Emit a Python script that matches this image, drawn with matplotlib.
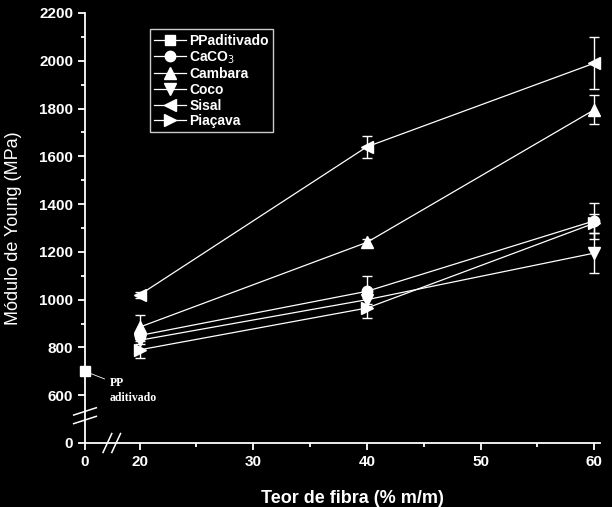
import matplotlib
matplotlib.use("Agg")
import matplotlib.pyplot as plt
from matplotlib.ticker import FixedLocator

# fibre content (% m/m) and Young's modulus (MPa)
TEOR = [20, 40, 60]

PP_TEOR = 0
PP_MODULO = 700

CACO3 = [850, 1035, 1330]
CACO3_ERR = [15, 65, 75]
CAMBARA = [885, 1240, 1795]
CAMBARA_ERR = [50, 15, 60]
COCO = [830, 1000, 1195]
COCO_ERR = [15, 20, 85]
SISAL = [1020, 1640, 1990]
SISAL_ERR = [12, 45, 110]
PIACAVA = [790, 965, 1320]
PIACAVA_ERR = [35, 40, 40]

X_TICKS = [20, 30, 40, 50, 60]
Y_TICKS = [600, 800, 1000, 1200, 1400, 1600, 1800, 2000, 2200]

# where the broken axes put their "0"
X_ZERO = 15.2
Y_ZERO = 400

FG = "white"
BG = "black"


def main() -> None:
    plt.rcParams["font.family"] = ["Liberation Sans", "DejaVu Sans"]
    fig = plt.figure(figsize=(6.12, 5.07), dpi=100, facecolor=BG)
    ax = fig.add_axes([85 / 612, 1 - 443 / 507, 515 / 612, 430 / 507])
    ax.set_facecolor(BG)

    kw = dict(color=FG, lw=0.9, capsize=3.5, elinewidth=1.0, capthick=1.0, clip_on=False)
    handles, labels = [], []
    pp, = ax.plot([X_ZERO + PP_TEOR], [PP_MODULO], "-s", color=FG, lw=0.9, ms=6.5, clip_on=False)
    handles.append(pp)
    labels.append("PPaditivado")
    series = [
        (CACO3, CACO3_ERR, "o", 7.5, "CaCO$_3$"),
        (CAMBARA, CAMBARA_ERR, "^", 9, "Cambara"),
        (COCO, COCO_ERR, "v", 9, "Coco"),
        (SISAL, SISAL_ERR, "<", 9, "Sisal"),
        (PIACAVA, PIACAVA_ERR, ">", 9, "Piaçava"),
    ]
    for vals, err, mk, ms, name in series:
        cont = ax.errorbar(TEOR, vals, yerr=err, fmt="-" + mk, ms=ms, **kw)
        handles.append(cont[0])
        labels.append(name)

    ax.annotate("PP\naditivado", xy=(X_ZERO + PP_TEOR, PP_MODULO), xytext=(18, -4),
                textcoords="offset points", va="top", ha="left", color=FG,
                family=["Liberation Serif", "DejaVu Serif"], fontweight="bold", fontsize=8.5,
                linespacing=1.3,
                arrowprops=dict(arrowstyle="-", color=FG, lw=0.6, shrinkA=2, shrinkB=4))

    ax.set_xlim(X_ZERO, 60.5)
    ax.set_ylim(Y_ZERO, 2200)
    ax.xaxis.set_major_locator(FixedLocator([X_ZERO] + X_TICKS))
    ax.set_xticklabels(["0"] + [str(t) for t in X_TICKS])
    ax.xaxis.set_minor_locator(FixedLocator([25, 35, 45, 55]))
    ax.yaxis.set_major_locator(FixedLocator([Y_ZERO] + Y_TICKS))
    ax.set_yticklabels(["0"] + [str(t) for t in Y_TICKS])
    ax.yaxis.set_minor_locator(FixedLocator(list(range(700, 2200, 200))))

    for side in ("top", "right"):
        ax.spines[side].set_visible(False)
    for side in ("left", "bottom"):
        ax.spines[side].set_color(FG)
        ax.spines[side].set_linewidth(1.3)
    ax.tick_params(which="both", colors=FG, direction="out", width=1.3)
    ax.tick_params(which="major", length=5, labelsize=11)
    ax.tick_params(which="minor", length=3)
    for lab in ax.get_xticklabels() + ax.get_yticklabels():
        lab.set_fontweight("bold")
        lab.set_color(FG)

    ax.set_xlabel("Teor de fibra (% m/m)", color=FG, fontsize=13, fontweight="semibold")
    ax.set_ylabel("Módulo de Young (MPa)", color=FG, fontsize=13)
    ax.xaxis.set_label_coords(0.52, -0.11)
    ax.yaxis.set_label_coords(-0.123, 0.5)

    # break marks on both axes
    brk = dict(color=FG, lw=1.1, clip_on=False, transform=ax.transAxes)
    for dy in (0.0, 0.02):
        ax.plot([-0.022, 0.022], [0.045 + dy, 0.062 + dy], **brk)
    for dx in (0.0, 0.017):
        ax.plot([0.035 + dx, 0.052 + dx], [-0.022, 0.022], **brk)

    leg = ax.legend(handles, labels, loc="upper left", bbox_to_anchor=(0.126, 0.962),
                    borderaxespad=0, frameon=True, fancybox=False, facecolor=BG, edgecolor=FG,
                    handlelength=2.3, labelspacing=0.12, borderpad=0.3, handletextpad=0.25,
                    prop=dict(family=["Liberation Sans Narrow", "Liberation Sans"],
                              weight="bold", size=10))
    leg.get_frame().set_linewidth(1.0)
    for t in leg.get_texts():
        t.set_color(FG)

    fig.savefig("out.png", dpi=100, facecolor=BG)


if __name__ == "__main__":
    main()
